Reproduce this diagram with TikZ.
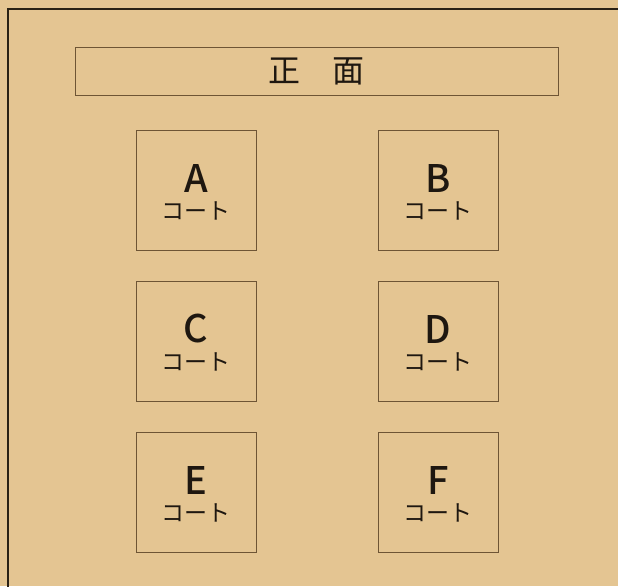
\documentclass[tikz,border=0pt]{standalone}
\usepackage{fontspec}
\newfontfamily\cjk{Noto Sans CJK JP}
\newfontfamily\cjkm{Noto Sans CJK JP}[UprightFont=* Medium]
\definecolor{bgc}{HTML}{E4C592}
\definecolor{boxc}{HTML}{6E5535}
\definecolor{outc}{HTML}{2A2114}
\definecolor{txtc}{HTML}{1E1710}
\tikzset{
  court/.style={draw=boxc, line width=0.8pt, minimum width=120pt, minimum height=120pt, inner sep=0pt},
  letter/.style={font=\cjkm\fontsize{38}{38}\selectfont, text=txtc, inner sep=0pt},
  ctext/.style={font=\cjk\fontsize{23}{23}\selectfont, text=txtc, inner sep=0pt},
  titlebox/.style={draw=boxc, line width=0.8pt, minimum width=483pt, minimum height=48pt, inner sep=0pt,
     font=\cjk\fontsize{32}{32}\selectfont, text=txtc}
}
\begin{document}
\begin{tikzpicture}[x=1pt,y=-1pt]
\fill[bgc] (0,0) rectangle (618,586);
\useasboundingbox (0,0) rectangle (618,586);
\coordinate (tl) at (8,9);
\coordinate (tr) at (620,9);
\coordinate (bl) at (8,590);
\draw[outc, line width=2.4pt] (bl) -- (tl) -- (tr);
\node[titlebox] (title) at (316.5,71) {正　面};
\foreach \n/\x/\y in {A/196/190, B/438/190, C/196/341, D/438/341, E/196/492, F/438/492}{
  \node[court] (\n) at (\x,\y) {};
  \node[letter] (\n l) at ([yshift=12pt]\n.center) {\n};
  \node[ctext] (\n c) at ([yshift=-21pt]\n.center) {コート};
}
\end{tikzpicture}
\end{document}
